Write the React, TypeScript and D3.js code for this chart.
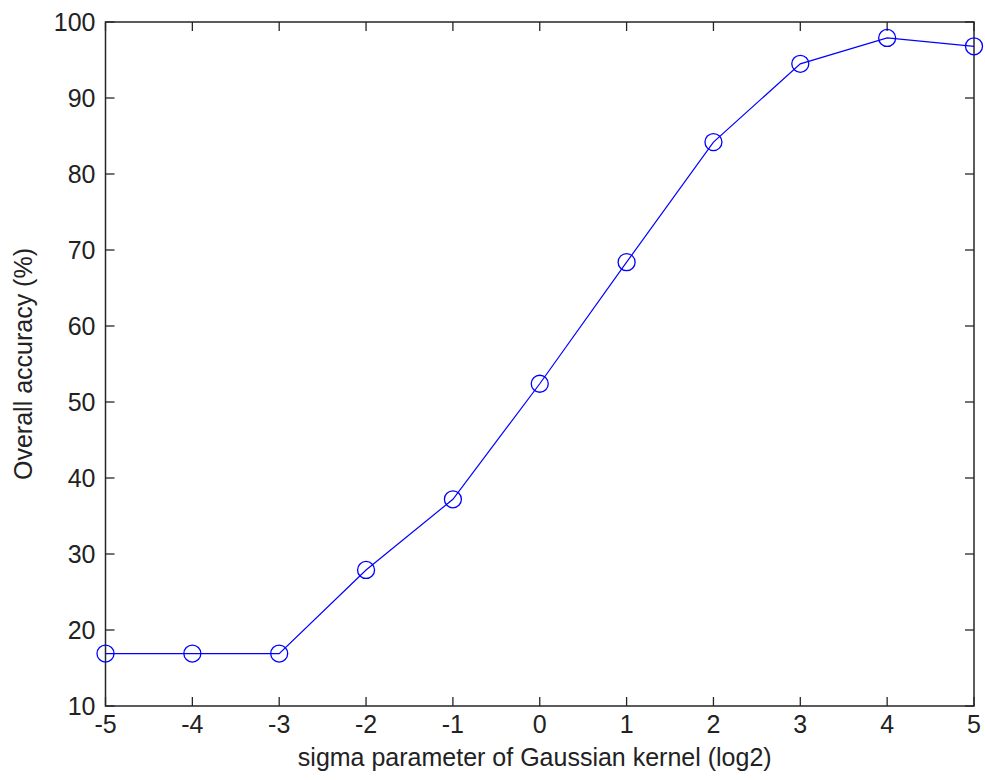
import React from "react";
import * as d3 from "d3";

const sigmaLog2 = [-5, -4, -3, -2, -1, 0, 1, 2, 3, 4, 5];
const accuracy = [16.9, 16.9, 16.9, 27.9, 37.2, 52.4, 68.4, 84.2, 94.5, 97.9, 96.8];
const xTicks = [-5, -4, -3, -2, -1, 0, 1, 2, 3, 4, 5];
const yTicks = [10, 20, 30, 40, 50, 60, 70, 80, 90, 100];

const W = 985, H = 780;
const L = 105.5, R = 974, T = 22, B = 706;

export default function App() {
  const x = d3.scaleLinear().domain([-5, 5]).range([L, R]);
  const y = d3.scaleLinear().domain([10, 100]).range([B, T]);
  const line = d3.line<number>().x((_, i) => x(sigmaLog2[i])).y((d) => y(d));
  const font = "'Liberation Sans', Arial, sans-serif";
  const axisColor = "#262626";
  const tl = 9;
  const fs = 25;
  return (
    <svg width={W} height={H} style={{ position: "absolute", left: 0, top: 0, background: "#fff" }}>
      <rect x={0} y={0} width={W} height={H} fill="#fff" />
      {xTicks.map((t) => (
        <g key={"x" + t}>
          <line x1={x(t)} x2={x(t)} y1={B} y2={B - tl} stroke={axisColor} strokeWidth={1.3} />
          <line x1={x(t)} x2={x(t)} y1={T} y2={T + tl} stroke={axisColor} strokeWidth={1.3} />
          <text x={x(t)} y={733} textAnchor="middle" fontFamily={font} fontSize={fs} fill="#222">{t}</text>
        </g>
      ))}
      {yTicks.map((t) => (
        <g key={"y" + t}>
          <line x1={L} x2={L + tl} y1={y(t)} y2={y(t)} stroke={axisColor} strokeWidth={1.3} />
          <line x1={R} x2={R - tl} y1={y(t)} y2={y(t)} stroke={axisColor} strokeWidth={1.3} />
          <text x={L - 10} y={y(t) + 9} textAnchor="end" fontFamily={font} fontSize={fs} fill="#222">{t}</text>
        </g>
      ))}
      <rect x={L} y={T} width={R - L} height={B - T} fill="none" stroke={axisColor} strokeWidth={1.5} />
      <path d={line(accuracy) || ""} fill="none" stroke="#0000ff" strokeWidth={1.2} />
      {accuracy.map((v, i) => (
        <circle key={i} cx={x(sigmaLog2[i])} cy={y(v)} r={8.5} fill="none" stroke="#0000ff" strokeWidth={1.3} />
      ))}
      <text x={(L + R) / 2 - 5} y={766} textAnchor="middle" fontFamily={font} fontSize={fs} fill="#222">sigma parameter of Gaussian kernel (log2)</text>
      <text transform={`translate(32, ${(T + B) / 2}) rotate(-90)`} textAnchor="middle" fontFamily={font} fontSize={fs} fill="#222">Overall accuracy (%)</text>
    </svg>
  );
}
